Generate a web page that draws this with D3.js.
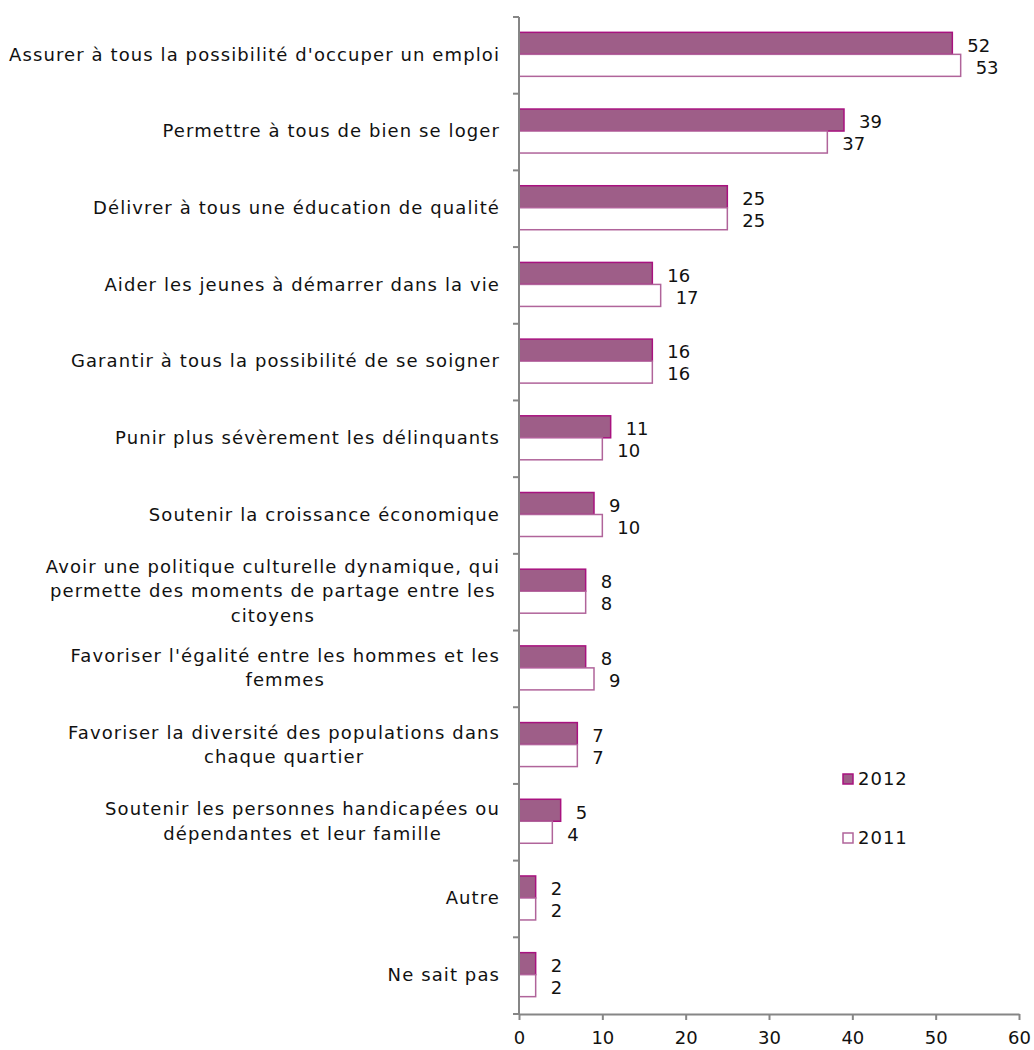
<!DOCTYPE html>
<html>
<head>
<meta charset="utf-8">
<script src="https://cdn.jsdelivr.net/npm/d3@7"></script>
<style>
  body { margin: 0; background: #fff; }
  text { font-family: "DejaVu Sans", Verdana, sans-serif; fill: #111; }
</style>
</head>
<body>
<div id="container"></div>
<script>
const width = 1034;
const height = 1050;

const categories = [
    ["Assurer à tous la possibilité d'occuper un emploi"],
    ["Permettre à tous de bien se loger"],
    ["Délivrer à tous une éducation de qualité"],
    ["Aider les jeunes à démarrer dans la vie"],
    ["Garantir à tous la possibilité de se soigner"],
    ["Punir plus sévèrement les délinquants"],
    ["Soutenir la croissance économique"],
    ["Avoir une politique culturelle dynamique, qui", "permette des moments de partage entre les", "citoyens"],
    ["Favoriser l'égalité entre les hommes et les", "femmes"],
    ["Favoriser la diversité des populations dans", "chaque quartier"],
    ["Soutenir les personnes handicapées ou", "dépendantes et leur famille"],
    ["Autre"],
    ["Ne sait pas"]
];
const values2012 = [52, 39, 25, 16, 16, 11, 9, 8, 8, 7, 5, 2, 2];
const values2011 = [53, 37, 25, 17, 16, 10, 10, 8, 9, 7, 4, 2, 2];
const xTicks = [0, 10, 20, 30, 40, 50, 60];
const seriesNames = ["2012", "2011"];

const margin = { top: 17, right: 15, bottom: 36, left: 519 };
const x = d3.scaleLinear().domain([0, 60]).range([margin.left, width - margin.right]);
const y = d3.scaleBand().domain(d3.range(categories.length))
    .range([margin.top, height - margin.bottom]);
const barH = 22;
const axisColor = "#868686";

const svg = d3.select("#container")
    .append("svg")
    .attr("width", width)
    .attr("height", height);

// bars
const series = [
    { name: seriesNames[0], values: values2012, fill: "#9e5e88", stroke: "#a8127f", off: -barH },
    { name: seriesNames[1], values: values2011, fill: "#ffffff", stroke: "#b0649a", off: 0 }
];
const center = (i) => y(i) + y.bandwidth() / 2 - 1;

series.forEach((s) => {
    svg.append("g")
        .selectAll("rect")
        .data(s.values)
        .enter()
        .append("rect")
        .attr("x", x(0))
        .attr("y", (d, i) => center(i) + s.off)
        .attr("width", (d) => x(d) - x(0))
        .attr("height", barH)
        .style("fill", s.fill)
        .style("stroke", s.stroke)
        .style("stroke-width", 1.5);
    svg.append("g")
        .selectAll("text")
        .data(s.values)
        .enter()
        .append("text")
        .attr("x", (d) => x(d) + 15)
        .attr("y", (d, i) => center(i) + s.off + barH / 2 + 2)
        .attr("dy", "0.35em")
        .style("font-size", "18px")
        .text((d) => d);
});

// axes
svg.append("g")
    .attr("transform", `translate(0,${height - margin.bottom})`)
    .call(d3.axisBottom(x).tickValues(xTicks).tickSize(6).tickSizeOuter(0).tickPadding(11))
    .call((g) => g.select(".domain").attr("stroke", axisColor).attr("stroke-width", 2))
    .call((g) => g.selectAll(".tick line").attr("stroke", axisColor).attr("stroke-width", 2))
    .call((g) => g.selectAll(".tick text").style("font-size", "18px").attr("fill", "#111")
        .attr("font-family", null));

const yEdges = d3.range(categories.length + 1).map((i) => margin.top + i * y.step());
svg.append("line")
    .attr("x1", x(0)).attr("x2", x(0))
    .attr("y1", margin.top).attr("y2", height - margin.bottom)
    .attr("stroke", axisColor).attr("stroke-width", 2);
svg.append("g")
    .selectAll("line")
    .data(yEdges)
    .enter()
    .append("line")
    .attr("x1", x(0) - 6).attr("x2", x(0))
    .attr("y1", (d) => d).attr("y2", (d) => d)
    .attr("stroke", axisColor).attr("stroke-width", 2);

// category labels (multi-line centred, block right aligned)
const labelRight = 500;
const lineH = 24.5;
const lg = svg.append("g").style("font-size", "18px").style("letter-spacing", "1.1px");
categories.forEach((lines, i) => {
    const g = lg.append("g");
    const texts = lines.map((l) => g.append("text").text(l));
    const maxW = d3.max(texts, (t) => t.node().getComputedTextLength());
    const cx = labelRight - maxW / 2;
    const y0 = center(i) - (lines.length - 1) * lineH / 2;
    texts.forEach((t, k) => {
        t.attr("x", cx).attr("y", y0 + k * lineH).attr("dy", "0.35em").attr("text-anchor", "middle");
    });
});

// legend
const legend = svg.append("g");
series.forEach((s, i) => {
    const ly = 779 + i * 59;
    legend.append("rect")
        .attr("x", 843).attr("y", ly - 5)
        .attr("width", 10).attr("height", 10)
        .style("fill", s.fill).style("stroke", s.stroke).style("stroke-width", 1.5);
    legend.append("text")
        .attr("x", 858).attr("y", ly).attr("dy", "0.35em")
        .style("font-size", "18px").style("letter-spacing", "1px")
        .text(s.name);
});
</script>
</body>
</html>
